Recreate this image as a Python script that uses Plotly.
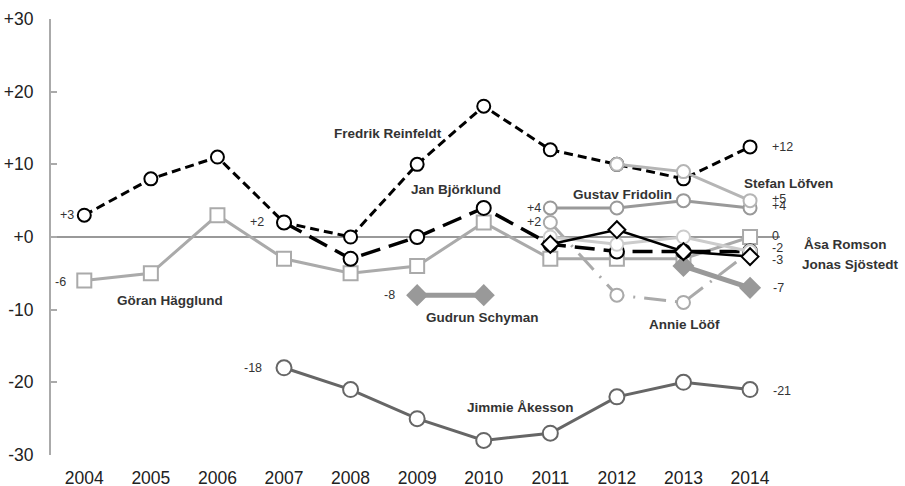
import plotly.graph_objects as go

years = list(range(2004, 2015))

# --- data (None = no value that year) ---
reinfeldt = [3, 8, 11, 2, 0, 10, 18, 12, 10, 8, 12.4]
bjorklund = [None, None, None, 2, -3, 0, 4, -1, -2, -2, -2]
hagglund = [-6, -5, 3, -3, -5, -4, 2, -3, -3, -3, 0]
akesson = [None, None, None, -18, -21, -25, -28, -27, -22, -20, -21]
schyman = [None, None, None, None, None, -8, -8, None, None, -4, -7]
lofven = [None, None, None, None, None, None, None, None, 10, 9, 5]
fridolin = [None, None, None, None, None, None, None, 4, 4, 5, 4]
loof = [None, None, None, None, None, None, None, 2, -8, -9, -2]
romson = [None, None, None, None, None, None, None, 0, -1, 0, -2]
sjostedt = [None, None, None, None, None, None, None, -1, 1, -2, -2.7]

ytick_vals = [30, 20, 10, 0, -10, -20, -30]
ytick_text = ["+30", "+20", "+10", "+0", "-10", "-20", "-30"]

FONT = "Liberation Sans, Arial, sans-serif"
TXT = "#333333"

fig = go.Figure()


def add(vals, color, width, dash="solid", symbol="circle", msize=13,
        mline=2, mfill="white", mcolor=None):
    fig.add_trace(go.Scatter(
        x=years, y=vals, mode="lines+markers",
        connectgaps=False,
        line=dict(color=color, width=width, dash=dash),
        marker=dict(symbol=symbol, size=msize, color=mfill,
                    line=dict(color=mcolor or color, width=mline)),
        showlegend=False, hoverinfo="x+y"))


add(akesson, "#666666", 3, msize=15)
add(hagglund, "#aaaaaa", 3, symbol="square", msize=14)
add(fridolin, "#999999", 3)
add(reinfeldt, "#000000", 3, dash="9px,5px", msize=13)
add(lofven, "#b5b5b5", 3)
add(schyman, "#999999", 5, symbol="diamond", msize=17, mline=0, mfill="#999999")
add(bjorklund, "#000000", 3.5, dash="20px,9px", msize=14)
add(loof, "#aaaaaa", 3, dash="22px,9px,2px,9px")
add(romson, "#cccccc", 3)
add(sjostedt, "#000000", 2.5, symbol="diamond", msize=13, mline=2)


def fmt(v):
    r = int(round(v))
    return "+%d" % r if r > 0 else "%d" % r


annotations = []

# value labels: (series, index, side, xshift, yshift)
value_labels = [
    (reinfeldt, 0, "left", -8, 0),
    (hagglund, 0, "left", -16, -1),
    (bjorklund, 3, "left", -18, 0),
    (schyman, 5, "left", -20, 0),
    (akesson, 3, "left", -20, 0),
    (fridolin, 7, "left", -7, 0),
    (loof, 7, "left", -7, 0),
    (reinfeldt, 10, "right", 20, 0),
    (lofven, 10, "right", 20, 2),
    (fridolin, 10, "right", 20, 2),
    (hagglund, 10, "right", 20, 1),
    (bjorklund, 10, "right", 20, 4),
    (sjostedt, 10, "right", 20, -3),
    (schyman, 10, "right", 21, 0),
    (akesson, 10, "right", 21, -1),
]
for series, i, side, xs, ys in value_labels:
    annotations.append(dict(
        x=years[i], y=series[i], xref="x", yref="y",
        text=fmt(series[i]), showarrow=False,
        xanchor="right" if side == "left" else "left",
        xshift=xs, yshift=ys,
        font=dict(family=FONT, size=12.5, color=TXT)))

# name labels: (text, x, y, anchor, xshift)
names = [
    ("Fredrik Reinfeldt", 2008.56, 14.3, "center", 0),
    ("Jan Björklund", 2009.59, 6.5, "center", 0),
    ("Gustav Fridolin", 2012.08, 5.8, "center", 0),
    ("Stefan Löfven", 2013.88, 7.4, "left", 0),
    ("Åsa Romson", 2014, -1.0, "left", 52),
    ("Jonas Sjöstedt", 2014, -3.85, "left", 50),
    ("Göran Hägglund", 2005.29, -8.67, "center", 0),
    ("Gudrun Schyman", 2009.98, -11.1, "center", 0),
    ("Annie Lööf", 2013.01, -12.0, "center", 0),
    ("Jimmie Åkesson", 2010.55, -23.5, "center", 0),
]
for t, x, y, anc, xs in names:
    annotations.append(dict(
        x=x, y=y, xref="x", yref="y", text="<b>%s</b>" % t,
        showarrow=False, xanchor=anc, xshift=xs,
        font=dict(family=FONT, size=13.5, color=TXT)))

fig.update_layout(
    width=905, height=486,
    margin=dict(l=51, r=125, t=19, b=31, pad=0, autoexpand=False),
    paper_bgcolor="white", plot_bgcolor="white",
    annotations=annotations,
    xaxis=dict(range=[2003.5, 2014.45], tickvals=years, automargin=False,
               showgrid=False, zeroline=False, showline=False, ticks="",
               ticklabelstandoff=10,
               tickfont=dict(family=FONT, size=17.5, color="#222222")),
    yaxis=dict(range=[-30, 30], tickvals=ytick_vals, ticktext=ytick_text,
               automargin=False,
               showgrid=False, zeroline=True, zerolinecolor="#999999",
               zerolinewidth=2, showline=True, linecolor="#aaaaaa",
               linewidth=2, ticks="inside", ticklen=6, tickcolor="#aaaaaa",
               tickwidth=1.5, ticklabelstandoff=12,
               tickfont=dict(family=FONT, size=17.5, color="#222222")),
)

fig.write_html("out.html",
               config={"displayModeBar": False},
               post_script="document.body.style.margin='0px';"
                           "document.body.style.overflow='hidden';")
